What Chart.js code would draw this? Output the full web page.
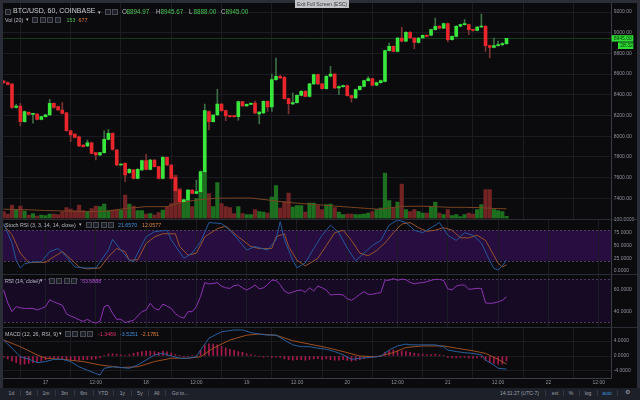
<!DOCTYPE html>
<html><head><meta charset="utf-8">
<script src="https://cdn.jsdelivr.net/npm/chart.js@4.4.1/dist/chart.umd.min.js"></script>
<style>
html,body{margin:0;padding:0;}
body{width:640px;height:400px;overflow:hidden;background:#0b0b0e;position:relative;font-family:"Liberation Sans",Arial,sans-serif;}
canvas{position:absolute;left:0;}
.t{position:absolute;white-space:nowrap;}
.ic{position:absolute;width:4px;height:4px;border:1px solid #4a4d56;background:#1d2027;}
.blk{position:absolute;}
</style></head><body>
<canvas id="cMain" width="640" height="222" style="top:0px"></canvas>
<canvas id="cStoch" width="640" height="64" style="top:214px"></canvas>
<canvas id="cRsi" width="640" height="60" style="top:270px"></canvas>
<canvas id="cMacd" width="640" height="66" style="top:323px"></canvas>
<script>
// ---------- DATA ----------
const hours = [-10,-9,-8,-7,-6,-5,-4,-3,-2,-1,0,1,2,3,4,5,6,7,8,9,10,11,12,13,14,15,16,17,18,19,20,21,22,23,24,25,26,27,28,29,30,31,32,33,34,35,36,37,38,39,40,41,42,43,44,45,46,47,48,49,50,51,52,53,54,55,56,57,58,59,60,61,62,63,64,65,66,67,68,69,70,71,72,73,74,75,76,77,78,79,80,81,82,83,84,85,86,87,88,89,90,91,92,93,94,95,96,97,98,99,100,101,102,103,104,105,106,107,108,109,110];
const open = [8533,8517,8504,8279,8292,8140,8231,8211,8214,8163,
8189,8205,8317,8285,8253,8227,8053,8021,7995,7915,
7905,7937,7841,7818,7841,7970,8028,7867,7722,7738,
7648,7674,7593,7674,7764,7680,7770,7706,7593,7796,
7722,7603,7480,7368,7384,7480,7448,7464,7657,8237,
8140,8205,8311,8247,8195,8192,8189,8334,8292,8308,
8321,8215,8224,8337,8282,8546,8579,8569,8363,8311,
8324,8395,8434,8385,8505,8595,8505,8459,8579,8601,
8466,8479,8488,8392,8369,8450,8482,8537,8556,8492,
8517,8530,8827,8868,8820,8949,8917,9004,8949,8907,
8949,8975,8975,9029,9062,9045,9087,8933,8965,9062,
9078,9078,9029,9022,9055,9062,8875,8859,8875,8885,
8894.97];
const high = [8540,8522,8511,8308,8317,8245,8236,8222,8218,8192,
8212,8356,8322,8290,8324,8230,8058,8024,8000,7918,
7963,7942,7845,7845,8053,8063,8032,7873,7732,7742,
7688,7680,7686,7770,7825,7776,7775,7710,7802,7800,
7726,7608,7485,7392,7485,7484,7577,7662,8311,8242,
8210,8453,8316,8252,8200,8195,8340,8338,8312,8322,
8340,8238,8342,8342,8600,8755,8590,8575,8368,8418,
8400,8440,8440,8512,8600,8600,8510,8585,8675,8606,
8484,8493,8493,8396,8455,8487,8542,8575,8560,8522,
8542,8833,8900,8873,8955,9052,9010,9010,8954,8954,
8980,8980,9035,9142,9068,9092,9092,8970,9068,9083,
9126,9083,9033,9060,9180,9068,8880,8949,8920,8905,
8945.67];
const low = [8510,8495,8269,8270,8099,8135,8205,8125,8158,8158,
8185,8200,8272,8248,8215,8048,7947,7983,7899,7893,
7900,7828,7770,7812,7836,7965,7866,7716,7718,7560,
7640,7588,7588,7668,7674,7675,7700,7588,7588,7716,
7588,7468,7362,7362,7378,7442,7442,7458,7650,8060,
8135,8200,8240,8150,8185,8183,8155,8287,8288,8304,
8218,8118,8218,8240,8240,8540,8556,8357,8215,8305,
8318,8390,8380,8380,8500,8500,8454,8454,8573,8460,
8401,8474,8386,8330,8364,8445,8477,8532,8487,8487,
8512,8525,8822,8815,8815,8912,8912,8944,8846,8900,
8944,8960,8970,9024,9040,9040,8910,8928,8960,9057,
9072,8981,9016,9017,9050,8820,8756,8854,8870,8872,
8888];
const close = [8517,8501,8279,8290,8140,8237,8211,8216,8163,8189,
8207,8317,8279,8253,8221,8053,8012,7989,7905,7899,
7937,7834,7818,7841,7970,8028,7873,7722,7728,7625,
7680,7593,7680,7764,7680,7770,7706,7593,7796,7722,
7593,7474,7368,7384,7480,7448,7464,7657,8247,8140,
8205,8311,8247,8195,8189,8189,8334,8292,8308,8317,
8224,8234,8337,8282,8546,8579,8562,8363,8315,8324,
8395,8434,8385,8505,8595,8505,8459,8579,8601,8466,
8479,8488,8392,8369,8450,8482,8537,8556,8492,8517,
8537,8827,8868,8820,8949,8917,9004,8949,8907,8949,
8975,8965,9029,9062,9045,9087,8933,8965,9062,9078,
9081,9029,9022,9055,9062,8875,8859,8875,8885,8895,
8945];
const volume = [490,315,945,595,875,525,245,350,175,245,
210,315,315,280,490,770,665,560,945,560,
490,700,875,840,1015,560,595,630,595,1645,
1015,875,560,560,315,350,245,420,595,840,
1050,3045,2100,1330,1995,840,1400,1960,3360,1750,
840,2520,1050,840,770,350,840,350,280,280,
630,490,455,385,1505,2310,735,1190,1785,805,
910,910,455,1085,1085,910,630,980,1015,770,
455,280,315,315,280,280,315,385,490,630,
735,3185,1260,735,1155,2415,630,490,630,490,
385,385,805,1155,385,280,630,210,280,140,
280,385,315,630,980,2030,2030,630,560,490,
153];
const volMaHours = [-10,-5,0,5,10,15,19,24,29,32,35,38,41,45,49,53,57,61,65,69,73,77,80,82,85,90,93,96,100,104,107,110];
const volMa = [650,620,560,520,480,520,700,830,830,1100,1250,1350,1420,1430,1435,1300,1150,1050,965,870,785,700,640,735,850,860,830,785,780,760,700,677];

const stochKHours = [-10,-8,-7,-6,-5,-3,-1,1,3,5,7,9,12,15,16,18,20,21,22,24,26,29,30,33,35,37,39,42,44,46,48,50,53,55,56,57,59,60,62,64,66,68,70,72,74,76,78,80,82,84,86,88,90,92,94,96,98,100,102,104,106,107,108,109,110];
const stochK = [93,55,21,6,14,18,18,38,44,28,8,6,6,41,62,41,21,18,35,67,77,80,61,25,35,57,95,93,80,61,41,48,41,61,97,61,21,6,16,44,70,90,75,45,20,35,50,60,90,100,95,80,75,85,95,70,60,75,70,55,20,5,2,10,21.657];
const stochDHours = [-10,-8,-6,-4,-3,0,2,4,5,7,8,10,13,15,17,19,20,22,24,26,28,31,32,34,36,38,41,43,46,49,51,54,55,57,58,60,62,65,67,69,71,73,75,77,79,81,83,85,87,89,91,93,95,97,99,101,103,105,107,108,109,110];
const stochD = [90,71,35,16,17,17,28,38,31,16,8,4,6,28,44,38,21,22,54,67,73,73,48,31,35,67,83,88,67,48,44,44,67,73,48,21,10,25,50,75,80,60,35,30,40,55,75,92,95,85,78,80,85,80,65,65,70,60,30,15,8,12.0577];

const rsi = [60,48,40,44.6,43.5,43,43,43,41.5,43,
44.6,51,49,47.5,46,38,36,34.5,32.5,31,
33,30.5,29.5,31,44.6,46,38.5,33,33,30,
31,32,36,40,41.5,47.7,43,41.5,47,45,
43,38,35.4,34,40,40,44.6,54,66.8,65.6,
66,66.8,63.5,62,61.5,64,64.6,62,60,62,
64.6,61,62,65,69.2,68.8,65,59,57,58,
59.5,60,58,62,59,63.7,62,60,55.4,55.8,
56,55.4,52,50.5,53,56,58.5,56,56,57,
57.5,69,69,70.5,69,70,69.5,67,65.6,66.5,
66.8,67.7,69,69.8,69.8,68.8,61,60,63.5,64.6,
64.6,60.6,61,61.5,61.5,48,47.7,48,49,50.5,
53.6888];

const macdHours = [-10,-8,-6,-4,-2,0,2,4,6,8,10,12,13,14,16,18,20,22,24,26,28,30,32,34,36,37,39,42,45,47,49,51,53,55,57,59,61,63,65,67,69,71,73,75,77,79,80,82,84,86,87,89,91,93,95,96,98,100,102,104,105,107,108,110];
const macd = [4.3,2.1,-0.2,-0.8,-1.8,-1.5,-0.9,-0.9,-1.5,-2.9,-3.8,-4.7,-5.1,-3.3,-2.9,-3.1,-3.3,-2.4,-1.1,0.3,0.7,0,-0.6,-0.6,-0.2,1.6,4.8,6.5,7,7,6.3,5.9,5.6,5.6,4.3,3,2.5,2.5,2.1,1.8,1.2,0.3,-0.9,-0.6,-0.4,-0.2,0,1.6,2.7,3.2,3,3,3,3,2.5,1.6,1.2,0.9,0.7,0.3,-1.1,-2.4,-3.3,-3.5251];
const signalHours = [-10,-6,-2,0,4,9,13,18,22,26,30,34,37,40,44,48,51,55,59,63,67,71,75,79,83,86,90,95,98,102,105,108,110];
const signal = [4.3,2.5,0.3,-0.6,-0.9,-1.5,-2.4,-3.1,-2.9,-1.5,-0.6,-0.6,-0.2,2.1,4.3,5.6,5.9,5.6,4.1,3.2,2.3,1.2,0,-0.2,0.9,2.3,2.7,2.7,2.1,1.4,0.7,-0.9,-2.1781];
const hist = [-0.3,-0.8,-1.3,-1.8,-2.2,-2.2,-2.0,-1.8,-1.6,-1.4,
-1.0,-0.6,-0.5,-0.6,-0.8,-1.0,-1.1,-1.1,-1.1,-1.0,
-1.0,-0.9,-0.8,-0.5,0.2,0.5,0.6,0.5,0.3,0.2,
0.4,0.7,1.0,1.2,1.3,1.3,1.2,1.0,1.3,1.1,
0.8,0.4,0.1,-0.1,-0.1,0.1,0.2,1.5,2.8,3.3,
3.2,3.0,2.6,2.2,1.8,1.5,1.2,1.0,0.6,0.4,
0.2,-0.2,-0.3,-0.2,-0.4,-0.3,-0.4,-0.8,-1.0,-1.1,
-1.0,-1.0,-1.1,-0.9,-0.8,-0.7,-0.9,-0.8,-1.0,-1.1,
-1.1,-1.0,-1.2,-1.4,-1.2,-1.0,-0.7,-0.5,-0.4,-0.2,
-0.1,1.0,1.4,1.6,1.4,1.3,1.2,1.0,0.7,0.6,
0.5,0.4,0.4,0.5,0.3,0.2,-0.4,-0.5,-0.5,-0.4,
-0.4,-0.6,-0.6,-0.5,-0.4,-1.2,-1.7,-2.0,-2.2,-2.2,
-1.3469];

const timeLabels = ['17','12:00','18','12:00','19','12:00','20','12:00','21','12:00','22','12:00'];
const countdown = '28:32';

// ---------- STYLE ----------
const X_MIN = -10.86, X_MAX = 135.1;
const GRID = '#1a1c22', AXIS = '#3a3d45', TICK = '#8f929b';
const UP = '#39e63c', DN = '#e8262c', UPW = '#3c6e44', DNW = '#7a3232';
const VUP = '#1d7020', VDN = '#722424';
const FONT = '"Liberation Sans", Arial, sans-serif';
Chart.defaults.font.family = FONT;
Chart.defaults.font.size = 5;

const yFit = s => { s.width = 28.3; s.paddingTop = 0; s.paddingBottom = 0; };
function xScale(show) {
  return {
    type: 'linear', min: X_MIN, max: X_MAX, offset: false,
    grid: { color: GRID, drawTicks: false, lineWidth: 1 },
    border: { display: show, color: AXIS },
    ticks: { display: show, stepSize: 12, maxTicksLimit: 20, includeBounds: false, autoSkip: false, maxRotation: 0,
      color: TICK, font: { size: 5 }, padding: 2, callback: v => timeLabels[Math.round(v / 12)] ?? '' },
    afterFit: s => { s.height = show ? 11 : 0; s.paddingLeft = 0; s.paddingRight = 0; }
  };
}
function yScale(min, max, step, lim, dec, gridOn) {
  return {
    position: 'right', min, max,
    grid: { display: gridOn, color: GRID, drawTicks: false },
    border: { display: true, color: AXIS },
    ticks: { stepSize: step, maxTicksLimit: lim, includeBounds: false, color: TICK, font: { size: 5 }, padding: 2,
      callback: v => Number(v).toFixed(dec) },
    afterFit: yFit
  };
}

const deco = {
  id: 'deco',
  beforeDraw(chart, args, o) {
    if (!o.band) return;
    const y = chart.scales.y, a = chart.chartArea, ctx = chart.ctx;
    const t = y.getPixelForValue(o.band[1]), b = y.getPixelForValue(o.band[0]);
    ctx.save(); ctx.fillStyle = o.bandColor; ctx.fillRect(a.left, t, a.right - a.left, b - t); ctx.restore();
  },
  beforeDatasetsDraw(chart, args, o) {
    const y = chart.scales.y, a = chart.chartArea, ctx = chart.ctx;
    ctx.save();
    if (o.band) {
      ctx.strokeStyle = o.bandLine; ctx.lineWidth = 1; ctx.setLineDash([2, 2]);
      o.band.forEach(v => { const p = Math.round(y.getPixelForValue(v)) + 0.5; ctx.beginPath(); ctx.moveTo(a.left, p); ctx.lineTo(a.right, p); ctx.stroke(); });
    }
    if (o.last !== undefined && o.last !== null) {
      const p = Math.round(y.getPixelForValue(o.last)) + 0.5;
      ctx.setLineDash([]); ctx.strokeStyle = '#153a18'; ctx.lineWidth = 1;
      ctx.beginPath(); ctx.moveTo(a.left, p); ctx.lineTo(a.right, p); ctx.stroke();
    }
    ctx.restore();
  },
  afterDraw(chart, args, o) {
    if (o.last === undefined || o.last === null) return;
    const y = chart.scales.y, a = chart.chartArea, ctx = chart.ctx;
    const p = y.getPixelForValue(o.last);
    ctx.save();
    ctx.fillStyle = '#2fdc35';
    ctx.fillRect(a.right, p - 3.2, 21.6, 6.4);
    ctx.fillRect(a.right + 6.3, p + 4, 15.3, 6.6);
    ctx.fillStyle = '#06300a'; ctx.font = '5px ' + FONT; ctx.textBaseline = 'middle'; ctx.textAlign = 'left';
    ctx.fillText(o.last.toFixed(2), a.right + 2, p + 0.3);
    ctx.fillText(o.countdown, a.right + 8.5, p + 7.5);
    ctx.restore();
  }
};

const base = (padTop, padBottom) => ({
  responsive: false, animation: false, devicePixelRatio: 1, events: [],
  layout: { padding: { top: padTop, bottom: padBottom, left: 0, right: 0 } },
  plugins: { legend: { display: false }, tooltip: { enabled: false } }
});

// ---------- MAIN (price + volume) ----------
const isUp = close.map((c, i) => c >= open[i]);
const last = close[close.length - 1];
const mainOpts = base(3, 3.5);
mainOpts.scales = {
  x: xScale(false),
  y: yScale(7204.8, 9287, 200, 16, 2, true),
  v: { display: false, min: 0, max: 15085 }
};
mainOpts.plugins.deco = { last: last, countdown: countdown };
new Chart(document.getElementById('cMain'), {
  type: 'bar',
  data: { datasets: [
    { type: 'bar', yAxisID: 'v', order: 5, grouped: false, barThickness: 3.5,
      data: hours.map((h, i) => ({ x: h, y: volume[i] })),
      backgroundColor: isUp.map(u => u ? VUP : VDN) },
    { type: 'line', yAxisID: 'v', order: 4, borderColor: '#7a4420', borderWidth: 1, pointRadius: 0, tension: 0,
      data: volMaHours.map((h, i) => ({ x: h, y: volMa[i] })) },
    { type: 'bar', yAxisID: 'y', order: 2, grouped: false, barThickness: 1,
      data: hours.map((h, i) => ({ x: h, y: [low[i], high[i]] })),
      backgroundColor: isUp.map(u => u ? UPW : DNW) },
    { type: 'bar', yAxisID: 'y', order: 1, grouped: false, barThickness: 3, minBarLength: 1,
      data: hours.map((h, i) => ({ x: h, y: [open[i], close[i]] })),
      backgroundColor: isUp.map(u => u ? UP : DN) }
  ] },
  options: mainOpts,
  plugins: [deco]
});

// ---------- STOCH RSI ----------
const stOpts = base(5.5, 4.5);
stOpts.scales = { x: xScale(false), y: yScale(-4.9, 101, 25, 8, 4, false) };
stOpts.plugins.deco = { band: [20, 80], bandColor: '#270d40', bandLine: '#4d3d63' };
new Chart(document.getElementById('cStoch'), {
  type: 'line',
  data: { datasets: [
    { data: stochKHours.map((h, i) => ({ x: h, y: stochK[i] })), borderColor: '#24599a', borderWidth: 1, pointRadius: 0, tension: 0 },
    { data: stochDHours.map((h, i) => ({ x: h, y: stochD[i] })), borderColor: '#99532a', borderWidth: 1, pointRadius: 0, tension: 0 }
  ] },
  options: stOpts, plugins: [deco]
});

// ---------- RSI ----------
const rOpts = base(4.5, 3.5);
rOpts.scales = { x: xScale(false), y: yScale(26.3, 74.3, 20, 5, 4, false) };
rOpts.plugins.deco = { band: [30, 70], bandColor: '#160a24', bandLine: '#4a3a5e' };
new Chart(document.getElementById('cRsi'), {
  type: 'line',
  data: { datasets: [
    { data: hours.map((h, i) => ({ x: h, y: rsi[i] })), borderColor: '#8e34b2', borderWidth: 1, pointRadius: 0, tension: 0 }
  ] },
  options: rOpts, plugins: [deco]
});

// ---------- MACD ----------
const mOpts = base(4.5, 0);
mOpts.scales = { x: xScale(true), y: yScale(-5.91, 7.66, 4, 6, 4, true) };
mOpts.plugins.deco = {};
new Chart(document.getElementById('cMacd'), {
  type: 'bar',
  data: { datasets: [
    { type: 'bar', order: 3, grouped: false, barThickness: 1,
      data: hours.map((h, i) => ({ x: h, y: hist[i] })), backgroundColor: '#a81a4e' },
    { type: 'line', order: 2, data: signalHours.map((h, i) => ({ x: h, y: signal[i] })), borderColor: '#9e4e1f', borderWidth: 1, pointRadius: 0, tension: 0 },
    { type: 'line', order: 1, data: macdHours.map((h, i) => ({ x: h, y: macd[i] })), borderColor: '#285f9e', borderWidth: 1, pointRadius: 0, tension: 0 }
  ] },
  options: mOpts, plugins: [deco]
});

// ---------- UI overlay (frame, legends, toolbar) ----------
function blk(x, y, w, h, c) { const d = document.createElement('div'); d.className = 'blk'; Object.assign(d.style, { left: x + 'px', top: y + 'px', width: w + 'px', height: h + 'px', background: c }); document.body.appendChild(d); return d; }
function txt(x, cy, s, color, fs, anchor) {
  const d = document.createElement('div'); d.className = 't'; d.textContent = s;
  Object.assign(d.style, { top: (cy - fs * 0.6) + 'px', fontSize: fs + 'px', lineHeight: (fs * 1.2) + 'px', color: color });
  if (anchor === 'c') { d.style.left = x + 'px'; d.style.transform = 'translateX(-50%)'; } else d.style.left = x + 'px';
  document.body.appendChild(d); return d;
}
function icons(x, cy, n, gap) { for (let i = 0; i < n; i++) { const d = document.createElement('div'); d.className = 'ic'; d.style.left = (x + i * gap) + 'px'; d.style.top = (cy - 3) + 'px'; document.body.appendChild(d); } }

// separators & frame
blk(0, 218.5, 637, 1, '#2a2d36');
blk(0, 273.5, 637, 1, '#2a2d36');
blk(0, 326.5, 637, 1, '#2a2d36');
blk(0, 0, 640, 3, '#2b2e37');
blk(0, 0, 2.5, 400, '#2b2e37');
blk(637, 0, 3, 400, '#2b2e37');
// exit full screen tip
blk(295, 0, 54, 7.5, '#c3c4c8');
txt(322, 4, 'Exit Full Screen (ESC)', '#3a3a3a', 5, 'c');

// main legend
icons(5, 11.5, 1, 0);
txt(13, 11.5, 'BTC/USD, 60, COINBASE', '#c9ccd2', 7);
txt(98, 11.5, '▾', '#c9ccd2', 5);
icons(105, 11.5, 2, 7);
const ohlc = [['O', open[open.length - 1]], ['H', high[high.length - 1]], ['L', low[low.length - 1]], ['C', close[close.length - 1]]];
const ohlcX = [122, 156, 189, 221];
ohlc.forEach((p, i) => { txt(ohlcX[i], 11.5, p[0], '#b8bbc2', 6.3); txt(ohlcX[i] + 4.6, 11.5, p[1].toFixed(2), '#4cc552', 6.3); });
txt(5, 20, 'Vol (20)', '#b8bbc2', 5.3);
txt(26, 20, '▾', '#b8bbc2', 4.5);
icons(32, 20, 4, 7.5);
txt(66.5, 20, String(volume[volume.length - 1]), '#4cc552', 5.3);
txt(78.5, 20, String(volMa[volMa.length - 1]), '#e07b39', 5.3);

// stoch legend
txt(5, 225, 'Stoch RSI (3, 3, 14, 14, close)', '#b8bbc2', 5.3);
txt(79, 225, '▾', '#b8bbc2', 4.5);
icons(86, 225, 4, 7.3);
txt(118, 225, stochK[stochK.length - 1].toFixed(4), '#3d8fdc', 5.3);
txt(142, 225, stochD[stochD.length - 1].toFixed(4), '#e0803a', 5.3);

// rsi legend
txt(5, 281, 'RSI (14, close)', '#b8bbc2', 5.3);
txt(40, 281, '▾', '#b8bbc2', 4.5);
icons(49, 281, 4, 7.3);
txt(82, 281, rsi[rsi.length - 1].toFixed(4), '#b04fcf', 5.3);

// macd legend
txt(5, 334, 'MACD (12, 26, RSI, 9)', '#b8bbc2', 5.3);
txt(59, 334, '▾', '#b8bbc2', 4.5);
icons(65, 334, 4, 7.3);
txt(98, 334, hist[hist.length - 1].toFixed(4), '#e0306a', 5.3);
txt(120, 334, macd[macd.length - 1].toFixed(4), '#3d8fdc', 5.3);
txt(141, 334, signal[signal.length - 1].toFixed(4), '#e0803a', 5.3);

// toolbar
blk(0, 388, 640, 12, '#1d2029');
const tb = [['1d', 11.4], ['5d', 28.6], ['1m', 46], ['3m', 64.5], ['6m', 83.7], ['YTD', 103], ['1y', 122.4], ['5y', 140], ['All', 156.7], ['Go to...', 180]];
tb.forEach(t => txt(t[1], 392.5, t[0], '#9ea1aa', 5, 'c'));
[20, 37.3, 55.2, 74, 93.3, 112.7, 131.2, 148.4, 165].forEach(x => blk(x, 389.5, 0.7, 6, '#33363f'));
txt(519.5, 392.5, '14:31:27 (UTC-7)', '#9ea1aa', 5, 'c');
[['ext', 555], ['%', 571], ['log', 588]].forEach(t => txt(t[1], 392.5, t[0], '#9ea1aa', 5, 'c'));
txt(607, 392.5, 'auto', '#3a8fd6', 5, 'c');
txt(627, 392.5, '⚙', '#9ea1aa', 6, 'c');
[545, 563, 579, 597, 617].forEach(x => blk(x, 389.5, 0.7, 6, '#33363f'));
</script>
</body></html>
